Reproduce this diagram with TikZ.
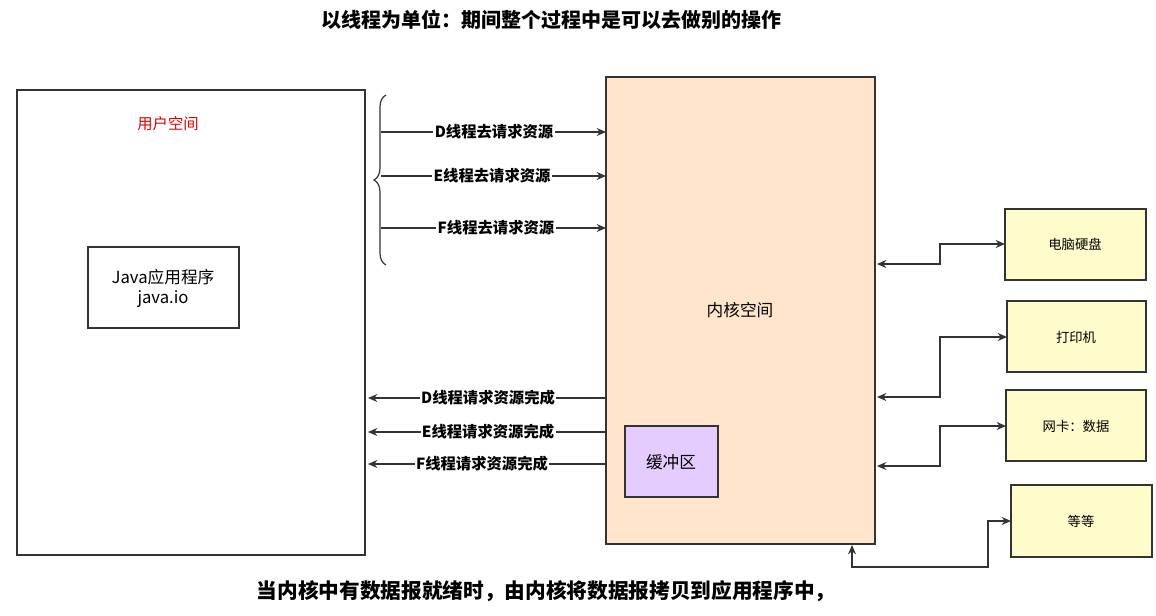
\documentclass[tikz,border=0pt]{standalone}
\usepackage{fontspec}
\setmainfont{Noto Sans CJK SC}
\usetikzlibrary{arrows.meta,decorations.pathreplacing}
\definecolor{bufcol}{RGB}{229,204,255}
\tikzset{
  box/.style={draw=black!80,line width=0.9pt,inner sep=0pt},
  link/.style={draw=black!80,line width=0.9pt,-{Stealth[length=7pt,width=6pt]}},
  dlink/.style={draw=black!80,line width=0.9pt,{Stealth[length=7pt,width=6pt]}-{Stealth[length=7pt,width=6pt]}},
  lbl/.style={fill=white,inner sep=1pt,font=\bfseries\fontsize{11.5}{12}\selectfont},
}
\begin{document}
\begin{tikzpicture}[x=0.75pt,y=-0.75pt]
\useasboundingbox (0,0) rectangle (1156,615);

% titles
\node (title) at (551,20) {\bfseries\fontsize{15}{17}\selectfont 以线程为单位：期间整个过程中是可以去做别的操作};
\node (bottom) at (546,591) {\bfseries\fontsize{15.5}{17}\selectfont 当内核中有数据报就绪时，由内核将数据报拷贝到应用程序中，};

% user space
\draw[box] (17,90) rectangle (365,555);
\node[text=red!85!black,font=\fontsize{11.5}{12}\selectfont] (user) at (168,124) {用户空间};
\draw[box] (88,247) rectangle (239,328);
\node[align=center,font=\fontsize{12.5}{15}\selectfont] (java) at (163,288) {Java应用程序\\java.io};

% brace
\draw[black!80,line width=0.9pt,decorate,decoration={brace,amplitude=9pt,mirror}] (386,95) -- (386,265);

% kernel space
\draw[box,fill=orange!20!white] (606,77) rectangle (875,544);
\node[font=\fontsize{12.5}{14}\selectfont] (kernel) at (740,310) {内核空间};
\draw[box,fill=bufcol] (625,426) rectangle (718,497);
\node[font=\fontsize{12.5}{14}\selectfont] (buf) at (671,462) {缓冲区};

% requests
\foreach \n/\y/\xl in {D/132/494,E/176/492,F/228/496}{
  \coordinate (req\n) at (381,\y);
  \coordinate (kin\n) at (606,\y);
  \draw[link] (req\n) -- (kin\n);
  \node[lbl] at (\xl,\y) {{\n}线程去请求资源};
}
% done
\foreach \n/\y/\xl in {D/398/488,E/432/488,F/464/482}{
  \coordinate (kout\n) at (606,\y);
  \coordinate (done\n) at (368,\y);
  \draw[link] (kout\n) -- (done\n);
  \node[lbl] at (\xl,\y) {{\n}线程请求资源完成};
}

% devices
\tikzset{dev/.style={draw=black!80,line width=0.9pt,fill=yellow!20!white}}
\draw[dev] (1005,209) rectangle (1146,280); \node (disk) at (1075,244) {\fontsize{10}{12}\selectfont 电脑硬盘};
\draw[dev] (1007,301) rectangle (1146,372); \node (print) at (1076,337) {\fontsize{10}{12}\selectfont 打印机};
\draw[dev] (1006,390) rectangle (1146,461); \node (net) at (1076,426) {\fontsize{10}{12}\selectfont 网卡：数据};
\draw[dev] (1011,485) rectangle (1152,557); \node (etc) at (1081,521) {\fontsize{10}{12}\selectfont 等等};

\draw[dlink] (877,264) -- (940,264) -- (940,244) -- (1005,244);
\draw[dlink] (877,397) -- (940,397) -- (940,337) -- (1007,337);
\draw[dlink] (877,466) -- (940,466) -- (940,426) -- (1006,426);
\draw[dlink] (852,545) -- (852,567) -- (988,567) -- (988,521) -- (1011,521);
\end{tikzpicture}
\end{document}
